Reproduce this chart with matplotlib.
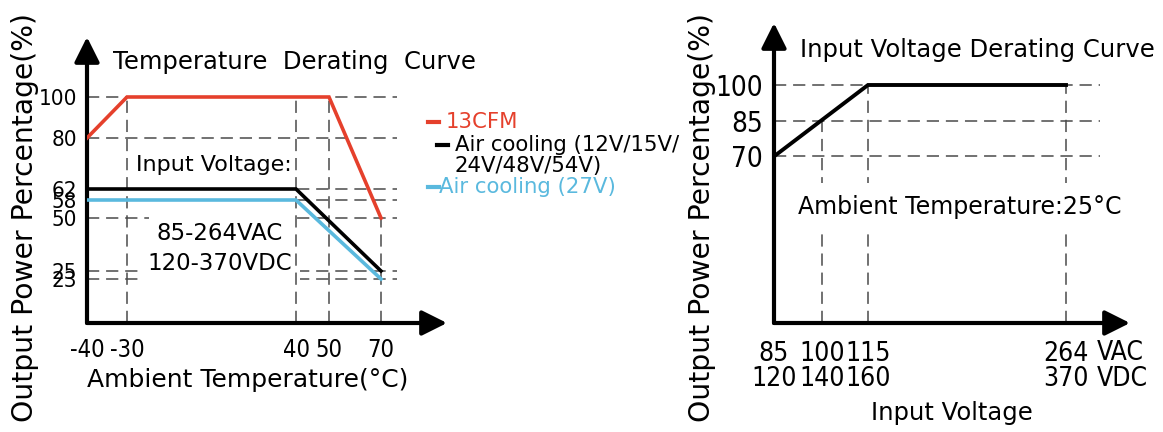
import numpy as np
import matplotlib
matplotlib.use('Agg')
import matplotlib.pyplot as plt

# ---- data: temperature derating ----
temp_13cfm = [-40, -30, 50, 70]
load_13cfm = [80, 100, 100, 50]
temp_air = [-40, 40, 70]
load_air = [62, 62, 25]
temp_air27 = [-40, 40, 70]
load_air27 = [58, 58, 23]
temp_ticks = [-40, -30, 40, 50, 70]
temp_yticks = [100, 80, 62, 58, 50, 25, 23]

# ---- data: input voltage derating ----
vin_vac = [85, 115, 264]
vin_load = [70, 100, 100]
vin_ticks = [85, 100, 115, 264]
vin_tick_labels = ['85\n120', '100\n140', '115\n160', '264\n370']
vin_yticks = [100, 85, 70]

RED = '#e5402c'
BLUE = '#5ab9de'
DASH = '#4a4a4a'
W, H = 1163, 432

plt.rcParams['font.family'] = ['DejaVu Sans']
NARROW = dict(family=['DejaVu Sans'], stretch='condensed')


def piecewise(knots_v, knots_p):
    fwd = lambda v: np.interp(v, knots_v, knots_p)
    inv = lambda p: np.interp(p, knots_p, knots_v)
    return fwd, inv


def arrows(ax):
    for xy in [(1, 0), (0, 1)]:
        ax.annotate('', xy=xy, xytext=(0, 0), xycoords='axes fraction',
                    arrowprops=dict(arrowstyle='-|>', lw=3, color='black',
                                    mutation_scale=38, shrinkA=0, shrinkB=0))
    for s in ax.spines.values():
        s.set_visible(False)
    ax.tick_params(length=0)


def dashed_h(ax, y, x0, x1):
    ax.plot([x0, x1], [y, y], color=DASH, lw=1.1, ls=(0, (8, 4.5)), zorder=1)


def dashed_v(ax, x, y0, y1, z=1):
    ax.plot([x, x], [y0, y1], color=DASH, lw=1.1, ls=(0, (8, 4.5)), zorder=z)


fig = plt.figure(figsize=(W / 100, H / 100), dpi=100)

# ================= left chart =================
ax1 = fig.add_axes([87 / W, (H - 323) / H, (447 - 87) / W, (323 - 37) / H])
xf, xi = piecewise([-40, -30, 40, 50, 70, 100], [87, 127, 296, 329, 381, 459])
yf, yi = piecewise([0, 23, 25, 50, 58, 62, 80, 100, 130],
                   [0, 44, 52, 105, 123, 134, 185, 226, 294])
ax1.set_xscale('function', functions=(xf, xi))
ax1.set_yscale('function', functions=(yf, yi))
ax1.set_xlim(-40, xi(447))
ax1.set_ylim(0, yi(286))
x_end = xi(397)

for y in temp_yticks:
    dashed_h(ax1, y, -40, x_end)
# vertical guides run over the white text boxes in this chart
dashed_v(ax1, -30, 0, 100, z=3)
dashed_v(ax1, 40, 0, 100, z=3)
dashed_v(ax1, 50, 0, 100, z=3)
dashed_v(ax1, 70, 0, 50, z=3)

ax1.plot(temp_13cfm, load_13cfm, color=RED, lw=2.6, zorder=4, solid_joinstyle='miter')
ax1.plot(temp_air, load_air, color='black', lw=2.6, zorder=4, solid_joinstyle='miter')
ax1.plot(temp_air27, load_air27, color=BLUE, lw=2.6, zorder=4, solid_joinstyle='miter')

ax1.set_xticks(temp_ticks)
ax1.set_xticklabels([str(t) for t in temp_ticks], size=17, **NARROW)
ax1.set_yticks(temp_yticks)
ax1.set_yticklabels([str(t) for t in temp_yticks], size=16, linespacing=0.9, **NARROW)
ax1.tick_params(axis='x', pad=11)
ax1.tick_params(axis='y', pad=7)
arrows(ax1)

box = dict(fc='white', ec='none', boxstyle='square,pad=0.35')
ax1.text(220 / W, 1 - 234 / H, '85-264VAC', fontsize=16.5, ha='center', va='center',
         transform=fig.transFigure, bbox=box, zorder=2)
ax1.text(220 / W, 1 - 263 / H, '120-370VDC', fontsize=16.5, ha='center', va='center',
         transform=fig.transFigure, bbox=box, zorder=2)

fig.text(113 / W, 1 - 62 / H, 'Temperature  Derating  Curve', fontsize=17.5, va='center')
fig.text(214 / W, 1 - 165 / H, 'Input Voltage:', fontsize=16, ha='center', va='center')
fig.text(248 / W, 1 - 380 / H, 'Ambient Temperature(°C)', fontsize=18, ha='center', va='center')
fig.text(25 / W, 1 - 217 / H, 'Output Power Percentage(%)', fontsize=20.3, rotation=90,
         ha='center', va='center')

# legend: colour, label, dash left edge, text left edge, row centre
leg = [(RED, '13CFM', 428, 446, 122),
       ('black', 'Air cooling (12V/15V/', 437, 455, 145),
       (None, '24V/48V/54V)', None, 455, 166),
       (BLUE, 'Air cooling (27V)', 428, 439, 187)]
for c, txt, dx, tx, py in leg:
    if c is not None:
        fig.lines.append(plt.Line2D([dx / W, (dx + 11) / W], [1 - py / H] * 2,
                                    color=c, lw=3, transform=fig.transFigure))
    fig.text(tx / W, 1 - py / H, txt, fontsize=15.3, va='center',
             color=c if c is not None else 'black')

# ================= right chart =================
ax2 = fig.add_axes([774 / W, (H - 323) / H, (1130 - 774) / W, (323 - 23) / H])
vf, vi = piecewise([85, 100, 115, 264, 330], [774, 822, 868, 1066, 1154])
ax2.set_xscale('function', functions=(vf, vi))
ax2.set_xlim(85, vi(1130))
ax2.set_ylim(0, 100 * 300 / 238)
v_end = vi(1100)

for y in vin_yticks:
    dashed_h(ax2, y, 85, v_end)
dashed_v(ax2, 100, 0, 85)
dashed_v(ax2, 115, 0, 100)
dashed_v(ax2, 264, 0, 100)

ax2.plot(vin_vac, vin_load, color='black', lw=2.8, zorder=4, solid_joinstyle='miter')

ax2.set_xticks(vin_ticks)
ax2.set_xticklabels(vin_tick_labels, size=19, linespacing=0.95, **NARROW)
ax2.set_yticks(vin_yticks)
ax2.set_yticklabels([str(t) for t in vin_yticks], size=20, **NARROW)
ax2.tick_params(axis='x', pad=13)
ax2.tick_params(axis='y', pad=8)
arrows(ax2)

ax2.text(960 / W, 1 - 207 / H, 'Ambient Temperature:25°C', fontsize=17, ha='center',
         va='center', transform=fig.transFigure,
         bbox=dict(fc='white', ec='none', boxstyle='square,pad=0.5'), zorder=3)

fig.text(1097 / W, 1 - 366 / H, 'VAC\nVDC', fontsize=19, va='center', linespacing=0.95,
         **NARROW)
fig.text(800 / W, 1 - 50 / H, 'Input Voltage Derating Curve', fontsize=17.5, va='center')
fig.text(952 / W, 1 - 413 / H, 'Input Voltage', fontsize=17.5, ha='center', va='center')
fig.text(702 / W, 1 - 217 / H, 'Output Power Percentage(%)', fontsize=20.3, rotation=90,
         ha='center', va='center')

fig.savefig('out.png', dpi=100)
